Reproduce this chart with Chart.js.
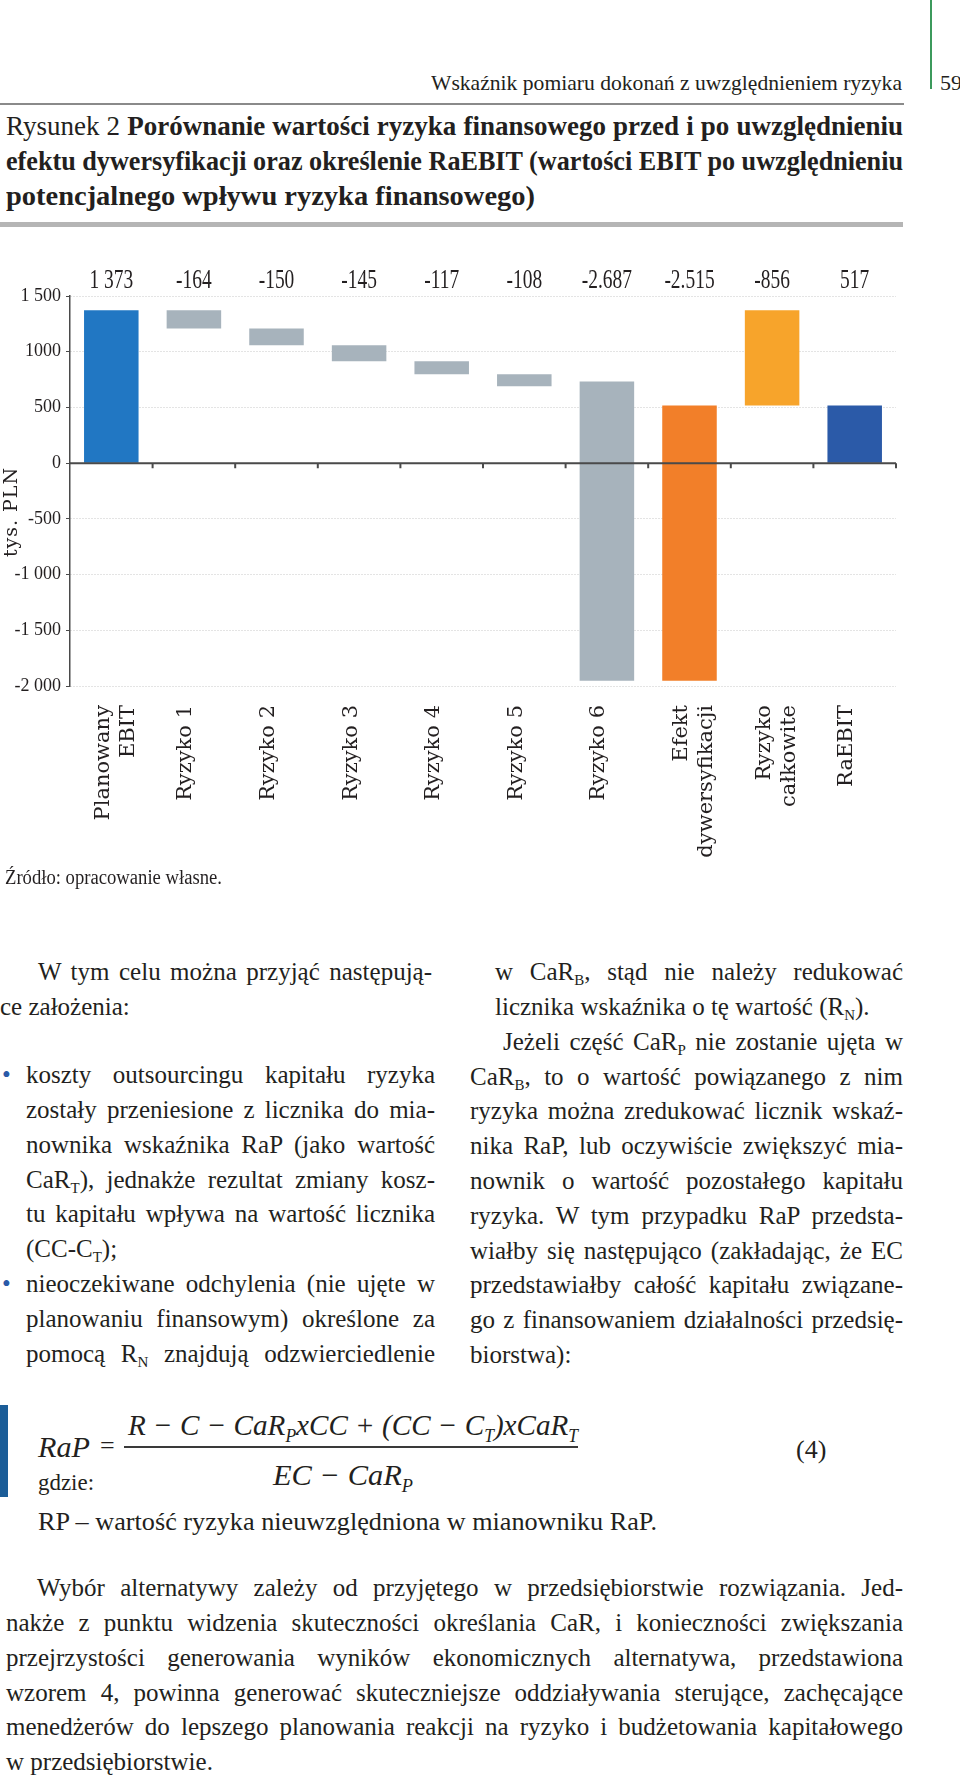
<!DOCTYPE html>
<html>
<head>
  <meta charset="utf-8">
  <script src="https://cdn.jsdelivr.net/npm/chart.js"></script>
  <style>
    html, body { margin: 0; padding: 0; background: #fff; }
    body { position: relative; width: 960px; height: 1778px; overflow: hidden;
           font-family: "Liberation Serif", serif; color: #231f20; }
    .abs { position: absolute; }
    .t { position: absolute; white-space: nowrap; line-height: 1; }
    .col { position: absolute; font-size: 25px; line-height: 34.8px; }
    .ln { white-space: nowrap; width: max-content; height: 34.8px; }
    .col sub { font-size: 15px; vertical-align: -5px; line-height: 0; }
    .it { font-style: italic; }
    .it sub { font-size: 18px; vertical-align: -7px; line-height: 0; }
    .dot { position: absolute; left: 2px; color: #2a5aa8; font-size: 25px; line-height: 34.8px; }
    #chartBox { position: absolute; left: 0; top: 240px; }
  </style>
</head>
<body>
  <!-- running header -->
  <div class="abs" style="left:930px;top:0;width:2px;height:89px;background:#3c9a5c"></div>
  <div class="t" style="left:431px;top:71.6px;font-size:22px" data-j="471" data-mode="scale">Wskaźnik pomiaru dokonań z uwzględnieniem ryzyka</div>
  <div class="t" style="left:940px;top:71.6px;font-size:22px">59</div>
  <div class="abs" style="left:0;top:103px;width:904px;height:2px;background:#8a8a8a"></div>

  <!-- figure title -->
  <div class="col" style="left:6px;top:109.4px;font-size:27px;line-height:35px;font-weight:bold">
    <div class="ln" style="height:35px" data-j="897"><span style="font-weight:normal">Rysunek 2</span> Porównanie wartości ryzyka finansowego przed i po uwzględnieniu</div>
    <div class="ln" style="height:35px" data-j="897">efektu dywersyfikacji oraz określenie RaEBIT (wartości EBIT po uwzględnieniu</div>
    <div class="ln" style="height:35px" data-j="529" data-mode="scale">potencjalnego wpływu ryzyka finansowego)</div>
  </div>
  <div class="abs" style="left:0;top:222px;width:903px;height:5px;background:#b5b5b5"></div>

  <div id="chartBox"><canvas id="wfChart" width="960" height="630"></canvas></div>

  <div class="t" style="left:5px;top:867.3px;font-size:20px" data-j="217" data-mode="scale">Źródło: opracowanie własne.</div>

  <!-- left column -->
  <div class="col" style="left:0;top:955.2px;width:435px">
    <div class="ln" style="margin-left:38px" data-j="394">W tym celu można przyjąć następują-</div>
    <div class="ln">ce założenia:</div>
  </div>
  <div class="col" style="left:0;top:1058.2px;width:435px">
    <div class="dot" style="top:0">•</div>
    <div class="dot" style="top:208.8px">•</div>
    <div class="ln" style="margin-left:26px" data-j="409">koszty outsourcingu kapitału ryzyka</div>
    <div class="ln" style="margin-left:26px" data-j="409">zostały przeniesione z licznika do mia-</div>
    <div class="ln" style="margin-left:26px" data-j="409">nownika wskaźnika RaP (jako wartość</div>
    <div class="ln" style="margin-left:26px" data-j="409">CaR<sub>T</sub>), jednakże rezultat zmiany kosz-</div>
    <div class="ln" style="margin-left:26px" data-j="409">tu kapitału wpływa na wartość licznika</div>
    <div class="ln" style="margin-left:26px">(CC-C<sub>T</sub>);</div>
    <div class="ln" style="margin-left:26px" data-j="409">nieoczekiwane odchylenia (nie ujęte w</div>
    <div class="ln" style="margin-left:26px" data-j="409">planowaniu finansowym) określone za</div>
    <div class="ln" style="margin-left:26px" data-j="409">pomocą R<sub>N</sub> znajdują odzwierciedlenie</div>
  </div>

  <!-- right column -->
  <div class="col" style="left:470px;top:955.2px;width:433px">
    <div class="ln" style="margin-left:25px" data-j="408">w CaR<sub>B</sub>, stąd nie należy redukować</div>
    <div class="ln" style="margin-left:25px">licznika wskaźnika o tę wartość (R<sub>N</sub>).</div>
    <div class="ln" style="margin-left:33px" data-j="400">Jeżeli część CaR<sub>P</sub> nie zostanie ujęta w</div>
    <div class="ln" data-j="433">CaR<sub>B</sub>, to o wartość powiązanego z nim</div>
    <div class="ln" data-j="433">ryzyka można zredukować licznik wskaź-</div>
    <div class="ln" data-j="433">nika RaP, lub oczywiście zwiększyć mia-</div>
    <div class="ln" data-j="433">nownik o wartość pozostałego kapitału</div>
    <div class="ln" data-j="433">ryzyka. W tym przypadku RaP przedsta-</div>
    <div class="ln" data-j="433">wiałby się następująco (zakładając, że EC</div>
    <div class="ln" data-j="433">przedstawiałby całość kapitału związane-</div>
    <div class="ln" data-j="433">go z finansowaniem działalności przedsię-</div>
    <div class="ln">biorstwa):</div>
  </div>

  <!-- formula -->
  <div class="abs" style="left:0;top:1405px;width:8px;height:92px;background:#1b5d98"></div>
  <div class="t it" style="left:38px;top:1431.9px;font-size:30px" data-j="52" data-mode="scale">RaP</div>
  <div class="t" style="left:100px;top:1433.2px;font-size:26px">=</div>
  <div class="t it" style="left:128px;top:1409.9px;font-size:30px" data-j="450" data-mode="scale">R − C − CaR<sub>P</sub>xCC + (CC − C<sub>T</sub>)xCaR<sub>T</sub></div>
  <div class="abs" style="left:124px;top:1446px;width:454px;height:2px;background:#3a3a3a"></div>
  <div class="t it" style="left:273px;top:1459.9px;font-size:30px" data-j="140" data-mode="scale">EC − CaR<sub>P</sub></div>
  <div class="t" style="left:796px;top:1437.2px;font-size:26px">(4)</div>
  <div class="t" style="left:38px;top:1469.9px;font-size:24px" data-j="56" data-mode="scale">gdzie:</div>
  <div class="t" style="left:38px;top:1509px;font-size:25px" data-j="619" data-mode="scale">RP – wartość ryzyka nieuwzględniona w mianowniku RaP.</div>

  <!-- closing paragraph -->
  <div class="col" style="left:6px;top:1571.2px;width:897px">
    <div class="ln" style="margin-left:31px" data-j="866">Wybór alternatywy zależy od przyjętego w przedsiębiorstwie rozwiązania. Jed-</div>
    <div class="ln" data-j="897">nakże z punktu widzenia skuteczności określania CaR, i konieczności zwiększania</div>
    <div class="ln" data-j="897">przejrzystości generowania wyników ekonomicznych alternatywa, przedstawiona</div>
    <div class="ln" data-j="897">wzorem 4, powinna generować skuteczniejsze oddziaływania sterujące, zachęcające</div>
    <div class="ln" data-j="897">menedżerów do lepszego planowania reakcji na ryzyko i budżetowania kapitałowego</div>
    <div class="ln">w przedsiębiorstwie.</div>
  </div>

  <script>
    // waterfall data, thousands of PLN
    var categories = [['Planowany', 'EBIT'], 'Ryzyko 1', 'Ryzyko 2', 'Ryzyko 3', 'Ryzyko 4',
      'Ryzyko 5', 'Ryzyko 6', ['Efekt', 'dywersyfikacji'], ['Ryzyko', 'całkowite'], 'RaEBIT'];
    var barStart = [0, 1373, 1209, 1059, 914, 797, 732, 517, 517, 0];
    var barEnd = [1373, 1209, 1059, 914, 797, 689, -1953, -1953, 1373, 517];
    var valueLabels = ['1 373', '-164', '-150', '-145', '-117', '-108', '-2.687', '-2.515', '-856', '517'];
    var barColors = ['#2177c3', '#a7b3bc', '#a7b3bc', '#a7b3bc', '#a7b3bc', '#a7b3bc', '#a7b3bc',
      '#f27f29', '#f7a42b', '#2b5aa8'];

    var yTickValues = [-2000, -1500, -1000, -500, 0, 500, 1000, 1500];
    var yTickLabels = ['-2 000', '-1 500', '-1 000', '-500', '0', '500', '1000', '1 500'];

    // stretch / squeeze lines to their measured widths
    document.querySelectorAll('[data-j]').forEach(function (el) {
      var target = parseFloat(el.dataset.j);
      var natural = el.getBoundingClientRect().width;
      var gaps = (el.textContent.match(/ /g) || []).length;
      if (el.dataset.mode !== 'scale' && natural < target && gaps > 0) {
        el.style.wordSpacing = ((target - natural) / gaps) + 'px';
      } else {
        el.style.transformOrigin = 'left center';
        el.style.transform = 'scaleX(' + (target / natural) + ')';
      }
    });

    var floating = barStart.map(function (s, i) { return [s, barEnd[i]]; });

    var extras = {
      id: 'extras',
      afterDatasetsDraw: function (chart) {
        var ctx = chart.ctx;
        var x = chart.scales.x, y = chart.scales.y, area = chart.chartArea;
        var y0 = y.getPixelForValue(0);

        // zero line with category ticks
        ctx.save();
        ctx.strokeStyle = '#4a4a4a';
        ctx.lineWidth = 2;
        ctx.beginPath();
        ctx.moveTo(area.left, y0);
        ctx.lineTo(area.right, y0);
        for (var i = 0; i < categories.length; i++) {
          var bx = i < categories.length - 1
            ? (x.getPixelForValue(i) + x.getPixelForValue(i + 1)) / 2
            : area.right;
          ctx.moveTo(bx, y0);
          ctx.lineTo(bx, y0 + 5);
        }
        ctx.stroke();

        // value labels over the plot
        ctx.fillStyle = '#231f20';
        ctx.font = '27px "Liberation Serif"';
        ctx.textAlign = 'center';
        ctx.textBaseline = 'alphabetic';
        valueLabels.forEach(function (t, i) {
          ctx.save();
          ctx.translate(x.getPixelForValue(i), area.top - 8);
          ctx.scale(0.72, 1);
          ctx.fillText(t, 0, 0);
          ctx.restore();
        });

        // axis title
        ctx.save();
        ctx.translate(12, (area.top + area.bottom) / 2 + 21);
        ctx.rotate(-Math.PI / 2);
        ctx.font = '19px "DejaVu Serif"';
        ctx.letterSpacing = '1px';
        ctx.textAlign = 'center';
        ctx.textBaseline = 'middle';
        ctx.fillText('tys. PLN', 0, 0);
        ctx.restore();
        ctx.restore();
      }
    };

    new Chart(document.getElementById('wfChart').getContext('2d'), {
      type: 'bar',
      data: {
        labels: categories,
        datasets: [{
          data: floating,
          backgroundColor: barColors,
          borderWidth: 0,
          categoryPercentage: 1,
          barPercentage: 0.66
        }]
      },
      options: {
        responsive: false,
        devicePixelRatio: 1,
        animation: false,
        layout: { padding: { top: 56, right: 64, left: 0, bottom: 0 } },
        plugins: { legend: { display: false }, tooltip: { enabled: false } },
        scales: {
          x: {
            grid: { display: false, drawTicks: false },
            border: { display: false },
            ticks: {
              autoSkip: false,
              minRotation: 90,
              maxRotation: 90,
              padding: 19,
              labelOffset: -8,
              color: '#231f20',
              font: { family: 'DejaVu Serif', size: 21 }
            },
            afterFit: function (s) { s.height = 184; }
          },
          y: {
            min: -2000,
            max: 1500,
            afterBuildTicks: function (s) {
              s.ticks = yTickValues.map(function (v) { return { value: v }; });
            },
            grid: {
              color: function (c) { return c.tick && c.tick.value === 0 ? 'rgba(0,0,0,0)' : '#c9c9c9'; },
              lineWidth: 1,
              tickLength: 4,
              tickColor: '#4a4a4a',
              tickWidth: 1
            },
            border: { display: true, color: '#4a4a4a', width: 1.5, dash: [1, 2] },
            ticks: {
              padding: 5,
              color: '#231f20',
              font: { family: 'Liberation Serif', size: 18 },
              callback: function (v) { return yTickLabels[yTickValues.indexOf(v)]; }
            },
            afterFit: function (s) { s.width = 70; }
          }
        }
      },
      plugins: [extras]
    });
  </script>
</body>
</html>
